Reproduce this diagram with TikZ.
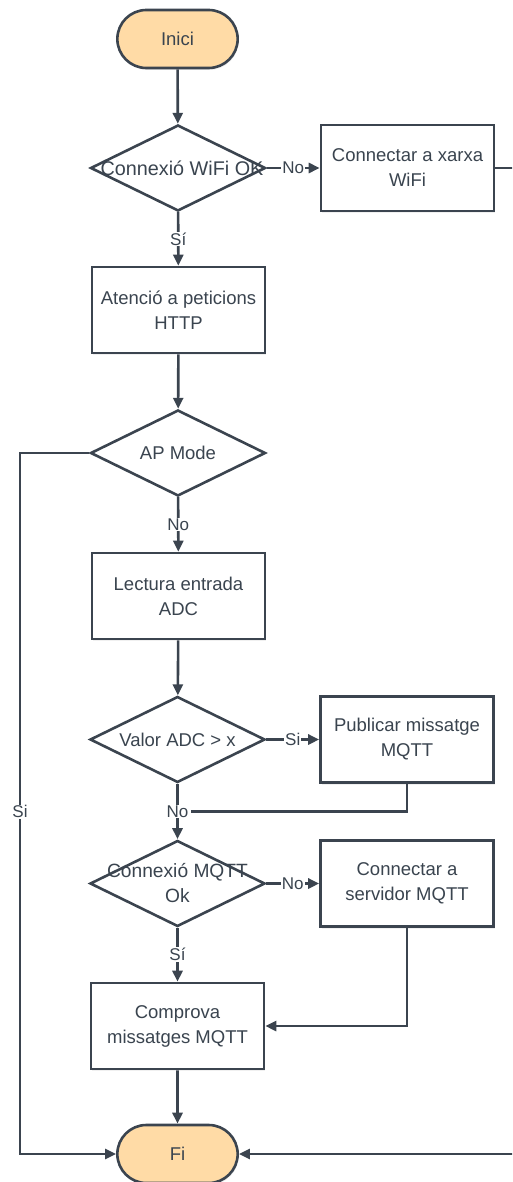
\documentclass[tikz,border=0pt]{standalone}
\usepackage{fontspec}
\setmainfont{Liberation Sans}
\usetikzlibrary{arrows.meta,shapes.geometric,shapes.misc,shadows}
\definecolor{ink}{HTML}{3B444F}
\definecolor{txt}{HTML}{3A444F}
\definecolor{term}{HTML}{FFDBA6}
\tikzset{
  every node/.style={text=txt},
  boxshadow/.style={drop shadow={opacity=0.12,shadow xshift=1pt,shadow yshift=-2pt}},
  terminal/.style={rounded rectangle,draw=ink,line width=2.6pt,fill=term,
    minimum width=127pt,minimum height=58pt,font=\fontsize{18.5}{24}\selectfont,boxshadow},
  process/.style={rectangle,draw=ink,line width=2.6pt,fill=white,
    minimum width=173pt,minimum height=86pt,align=center,
    font=\fontsize{18.5}{25}\selectfont,boxshadow},
  decision/.style={diamond,draw=ink,line width=2.6pt,fill=white,
    minimum width=175pt,minimum height=86pt,inner sep=0pt},
  dtext/.style={align=center,font=\fontsize{18.5}{25}\selectfont,text=txt},
  conn/.style={draw=ink,line width=2.6pt,-{Triangle[length=11pt,width=10pt]}},
  wire/.style={draw=ink,line width=2.6pt},
  lbl/.style={fill=white,inner sep=1pt,font=\fontsize{17}{19}\selectfont}
}
\begin{document}
\begin{tikzpicture}[x=1pt,y=1pt]
\useasboundingbox (0,0) rectangle (512,-1182);
\clip (0,0) rectangle (512,-1182);

% main column
\node[terminal] (inici) at (177.5,-39) {Inici};
\node[decision,label={[dtext,font=\fontsize{19.8}{25}\selectfont,xshift=4pt]center:Connexió WiFi OK}] (d1) at (178,-168) {};
\node[process] (c1) at (407.5,-168) {Connectar a xarxa\\WiFi};
\node[process] (b2) at (178.5,-310) {Atenció a peticions\\HTTP};
\node[decision,label={[dtext]center:AP Mode}] (d2) at (178,-453) {};
\node[process] (b3) at (178.5,-596) {Lectura entrada\\ADC};
\node[decision,label={[dtext]center:Valor ADC > x}] (d3) at (177.5,-739.5) {};
\node[process] (c3) at (407,-739.5) {Publicar missatge\\MQTT};
\node[decision,label={[dtext,font=\fontsize{19.2}{25}\selectfont]center:Connexió MQTT\\Ok}] (d4) at (177.5,-883.5) {};
\node[process] (c4) at (407,-883.5) {Connectar a\\servidor MQTT};
\node[process] (b5) at (177.5,-1026) {Comprova\\missatges MQTT};
\node[terminal] (fi) at (177.5,-1154) {Fi};

% side routes
\coordinate (rt) at (530,-168);
\coordinate (rb) at (530,-1154);
\coordinate (lt) at (20,-453);
\coordinate (lb) at (20,-1154);

% connectors
\draw[conn] (inici) -- (d1);
\draw[conn] (d1) -- node[lbl]{No} (c1);
\draw[conn] (d1) -- node[lbl]{Sí} (b2);
\draw[conn] (b2) -- (d2);
\draw[conn] (d2) -- node[lbl]{No} (b3);
\draw[conn] (b3) -- (d3);
\draw[conn] (d3) -- node[lbl]{Si} (c3);
\draw[conn] (d3) -- node[lbl] (no3) {No} (d4);
\draw[wire] (c3.south) |- (no3.east);
\draw[conn] (d4) -- node[lbl]{No} (c4);
\draw[conn] (d4) -- node[lbl]{Sí} (b5);
\draw[conn] (c4.south) |- (b5.east);
\draw[conn] (b5) -- (fi);
\draw[conn] (d2.west) -- (lt) -- node[lbl,pos=0.512]{Si} (lb) -- (fi.west);
\draw[conn] (c1.east) -- (rt) -- (rb) -- (fi.east);
\end{tikzpicture}
\end{document}
